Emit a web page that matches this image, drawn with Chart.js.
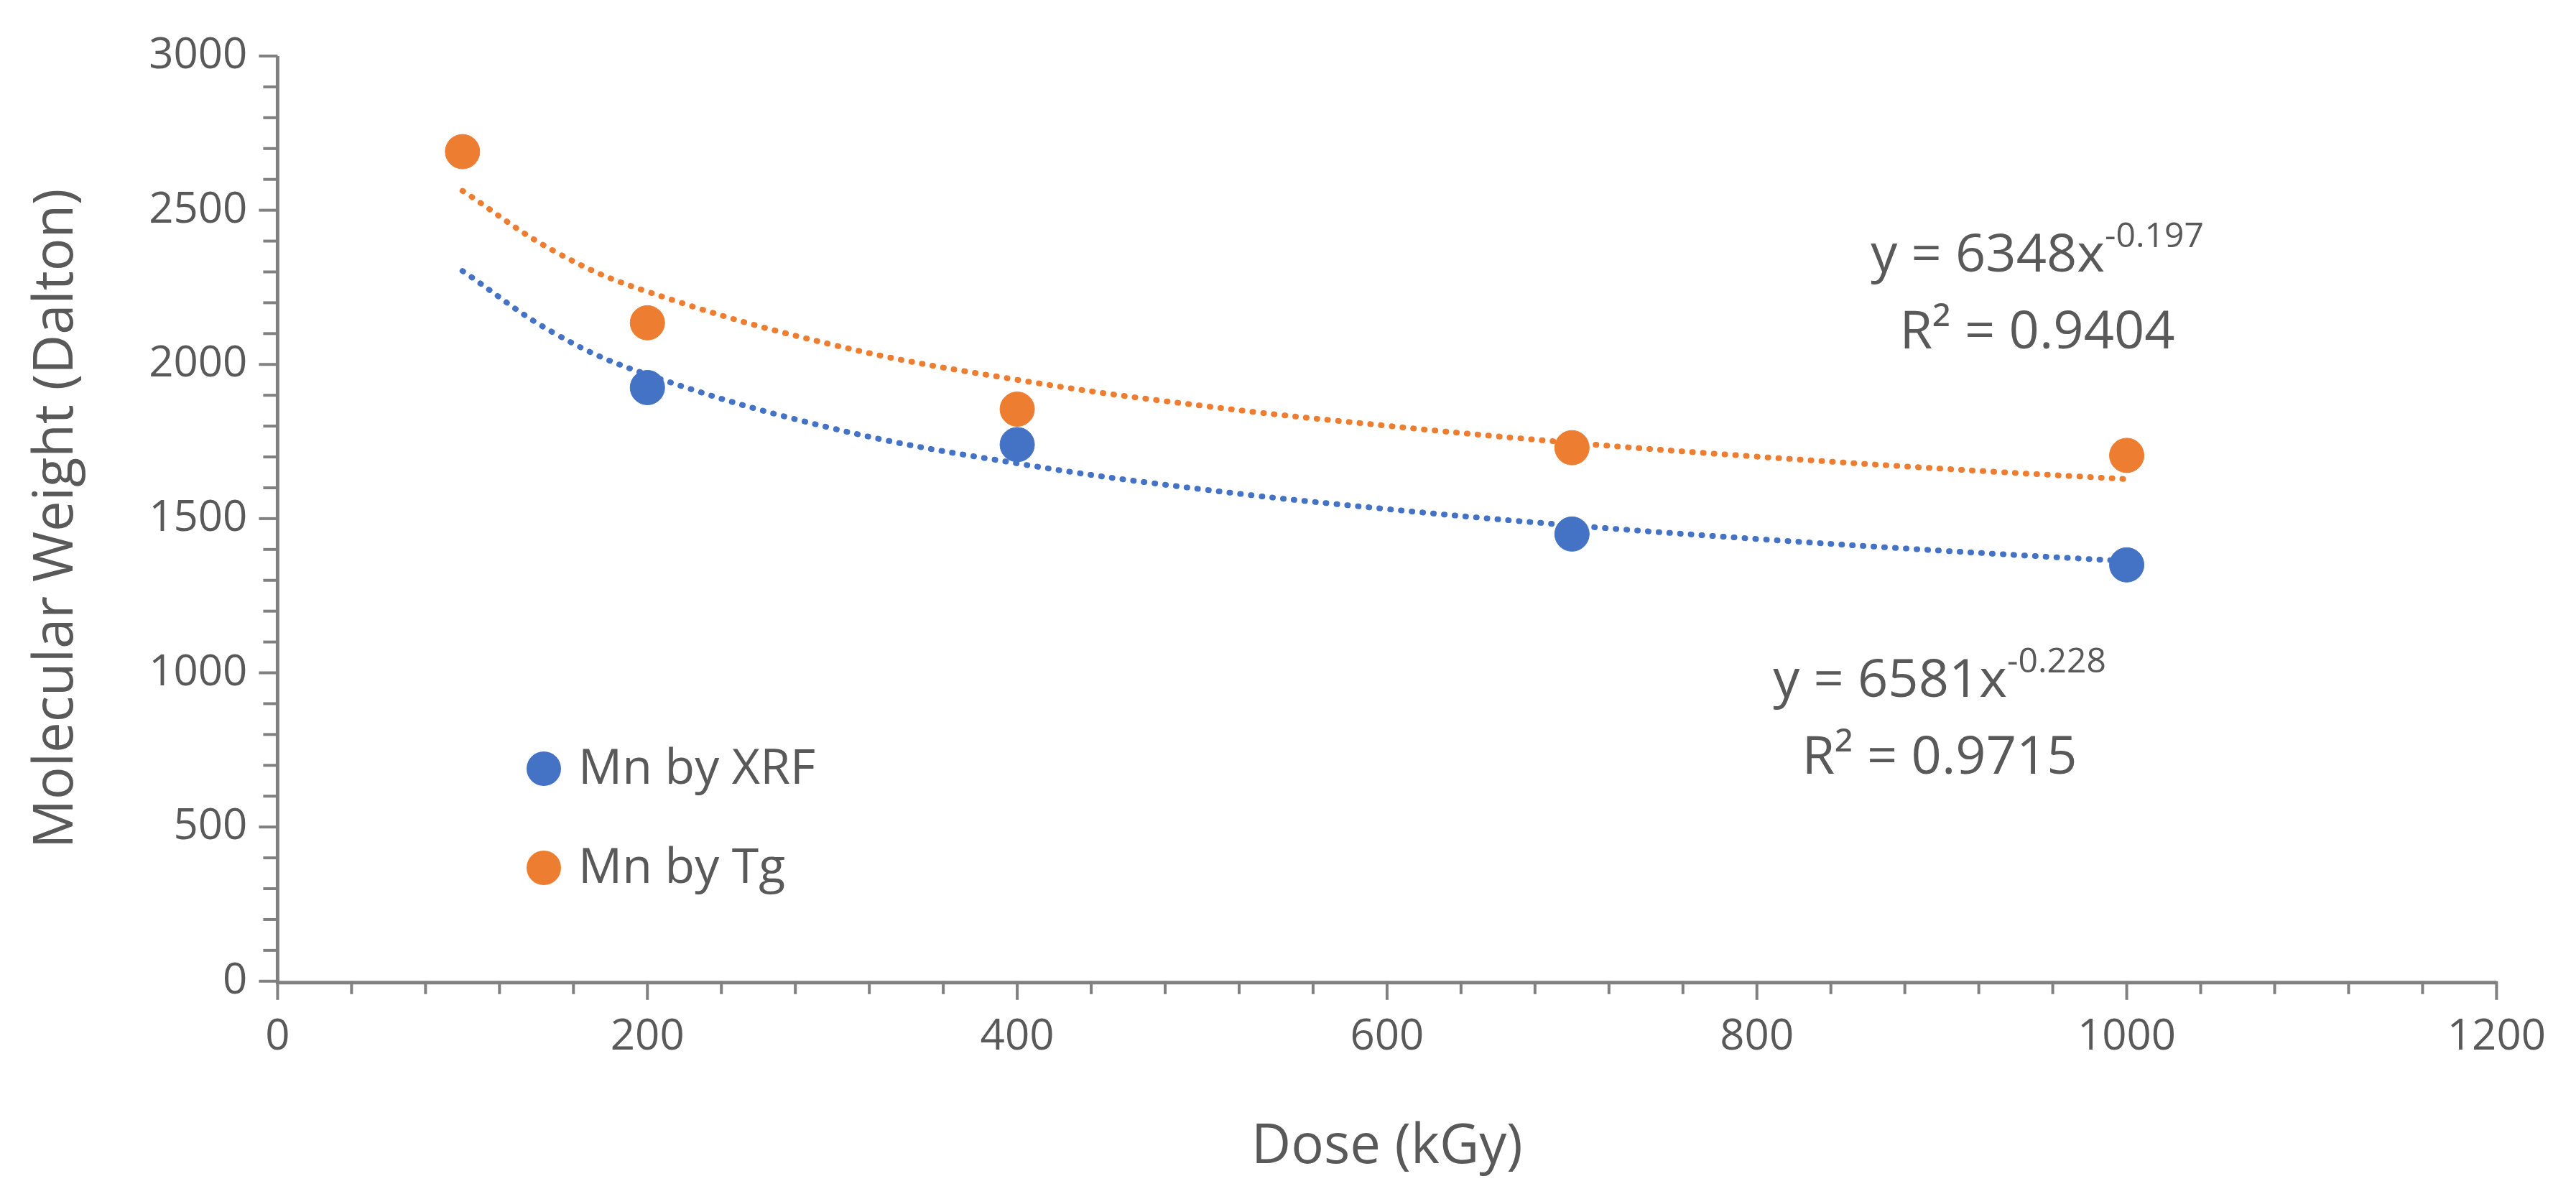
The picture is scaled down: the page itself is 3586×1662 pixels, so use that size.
<!DOCTYPE html>
<html><head><meta charset="utf-8">
<script src="https://cdn.jsdelivr.net/npm/chart.js@4"></script>
<style>html,body{margin:0;padding:0;background:#fff}#wrap{width:3586px;height:1662px}</style>
</head><body><div id="wrap"><canvas id="c"></canvas></div>
<script>
const xrfDose = [200, 400, 700, 1000];
const xrfMn = [1925, 1740, 1450, 1350];
const tgDose = [100, 200, 400, 700, 1000];
const tgMn = [2690, 2135, 1855, 1730, 1705];
const trendDose = [100, 150, 200, 300, 400, 500, 600, 700, 800, 900, 1000];
const xrfTrend = [2303, 2100, 1967, 1793, 1679, 1595, 1531, 1478, 1434, 1396, 1362];
const tgTrend = [2563, 2366, 2236, 2064, 1950, 1866, 1801, 1746, 1701, 1662, 1628];
const seriesNames = ['Mn by XRF', 'Mn by Tg'];
const xTitle = 'Dose (kGy)';
const yTitle = 'Molecular Weight (Dalton)';
const eqTg = ['y = 6348x', '-0.197', 'R² = 0.9404'];
const eqXrf = ['y = 6581x', '-0.228', 'R² = 0.9715'];

const BLUE = '#4472C4', ORANGE = '#ED7D31', TXT = '#595959', AX = '#808080';
const FONT = '"Open Sans", "Liberation Sans", sans-serif';
const pts = (xs, ys) => xs.map((x, i) => ({x, y: ys[i]}));

const deco = {
  id: 'deco',
  afterDraw(ch) {
    const c = ch.ctx, xs = ch.scales.x, ys = ch.scales.y, a = ch.chartArea;
    c.save();
    c.strokeStyle = AX; c.lineWidth = 5;
    c.beginPath(); c.moveTo(a.left, a.top); c.lineTo(a.left, a.bottom + 2); c.lineTo(a.right, a.bottom + 2); c.stroke();
    c.lineWidth = 4;
    for (let v = 0; v <= 1200; v += 40) {
      const p = xs.getPixelForValue(v), L = v % 200 === 0 ? 26 : 18;
      c.beginPath(); c.moveTo(p, a.bottom); c.lineTo(p, a.bottom + L); c.stroke();
    }
    for (let v = 0; v <= 3000; v += 100) {
      const p = ys.getPixelForValue(v), L = v % 500 === 0 ? 16 : 10;
      c.beginPath(); c.moveTo(a.left - 10 - L, p); c.lineTo(a.left, p); c.stroke();
    }
    c.font = '68px ' + FONT; c.textBaseline = 'middle';
    [[BLUE, seriesNames[0], 1070], [ORANGE, seriesNames[1], 1208]].forEach(([col, t, y]) => {
      c.fillStyle = col; c.beginPath(); c.arc(757, y, 24, 0, Math.PI * 2); c.fill();
      c.fillStyle = TXT; c.fillText(t, 805, y + 2);
    });
    const eq = (e, cx, y1) => {
      c.font = '74px ' + FONT; c.textBaseline = 'alphabetic';
      const w1 = c.measureText(e[0]).width; c.font = '48px ' + FONT;
      const w2 = c.measureText(e[1]).width;
      const x0 = cx - (w1 + w2) / 2;
      c.font = '74px ' + FONT; c.fillText(e[0], x0, y1);
      c.font = '48px ' + FONT; c.fillText(e[1], x0 + w1, y1 - 34);
      c.font = '74px ' + FONT; c.textAlign = 'center'; c.fillText(e[2], cx, y1 + 107); c.textAlign = 'left';
    };
    c.fillStyle = TXT;
    eq(eqTg, 2836, 378);
    eq(eqXrf, 2700, 970);
    c.restore();
  }
};

new Chart(document.getElementById('c'), {
  type: 'scatter',
  data: { datasets: [
    {label: 'xrfTrend', type: 'line', data: pts(trendDose, xrfTrend), borderColor: BLUE, borderWidth: 8, borderDash: [1, 14], borderCapStyle: 'round', pointRadius: 0, tension: 0.4, fill: false},
    {label: 'tgTrend', type: 'line', data: pts(trendDose, tgTrend), borderColor: ORANGE, borderWidth: 8, borderDash: [1, 14], borderCapStyle: 'round', pointRadius: 0, tension: 0.4, fill: false},
    {label: seriesNames[0], data: pts(xrfDose, xrfMn), backgroundColor: BLUE, borderColor: BLUE, pointRadius: 24},
    {label: seriesNames[1], data: pts(tgDose, tgMn), backgroundColor: ORANGE, borderColor: ORANGE, pointRadius: 24}
  ]},
  options: {
    responsive: true, maintainAspectRatio: false, animation: false,
    layout: {padding: {left: 30, right: 95, top: 22, bottom: 15}},
    plugins: {legend: {display: false}, tooltip: {enabled: false}},
    scales: {
      x: {type: 'linear', min: 0, max: 1200, grid: {display: false, drawTicks: false}, border: {display: false},
          ticks: {stepSize: 200, color: TXT, font: {size: 60, family: FONT}, padding: 42, callback: v => String(v)},
          title: {display: true, text: xTitle, color: TXT, font: {size: 76, family: FONT}, padding: {top: 30}}},
      y: {min: 0, max: 3000, grid: {display: false, drawTicks: false}, border: {display: false},
          ticks: {stepSize: 500, color: TXT, font: {size: 60, family: FONT}, padding: 42, callback: v => String(v)},
          title: {display: true, text: yTitle, color: TXT, font: {size: 76, family: FONT}, padding: {bottom: 40}}}
    }
  },
  plugins: [deco]
});
</script></body></html>
